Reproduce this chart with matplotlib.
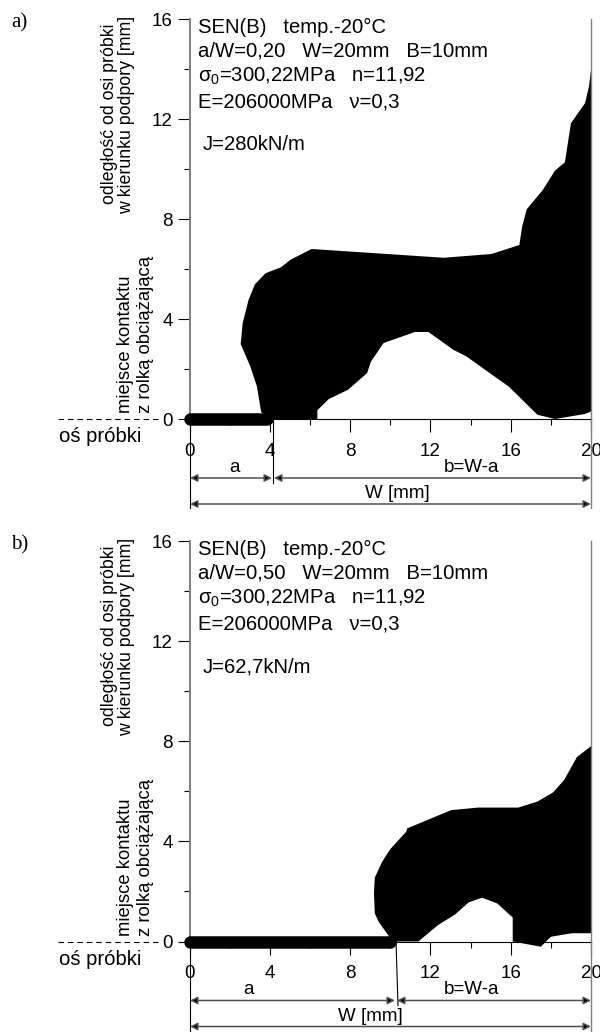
import matplotlib
matplotlib.use('Agg')
import matplotlib.pyplot as plt
import numpy as np

plt.rcParams['font.family'] = ['Liberation Sans', 'DejaVu Sans']
plt.rcParams['mathtext.fontset'] = 'custom'
plt.rcParams['mathtext.rm'] = 'Liberation Sans'
plt.rcParams['mathtext.default'] = 'rm'

W_px, H_px = 600, 1032
GRAY = '#808080'

# plastic zone outline, panel a
zone_a_x = [3.57, 3.36, 3.03, 2.55, 2.65, 2.94, 3.26, 3.79, 4.56, 5.03, 6.08, 12.66, 15.04, 16.43, 16.57,
            16.8, 17.6, 18.2, 18.7, 19.0, 19.7, 19.9, 20, 20, 19.7, 18.2, 17.33, 16.66, 15.9, 14.95,
            13.8, 13.14, 11.9, 11.23, 9.67, 9.04, 8.85, 7.9, 6.94, 6.37, 6.37, 4.17]
zone_a_y = [0.27, 1.3, 2.1, 3.0, 3.84, 4.76, 5.39, 5.83, 6.07, 6.37, 6.8, 6.45, 6.6, 6.96, 7.7,
            8.39, 9.16, 9.93, 10.27, 11.83, 12.63, 13.3, 13.96, 0.3, 0.2, 0, 0.17, 0.7, 1.3, 1.84,
            2.5, 2.77, 3.48, 3.48, 3.04, 2.3, 1.84, 1.17, 0.8, 0.35, 0, 0]

# plastic zone outline, panel b
zone_b_x = [9.9, 9.42, 9.23, 9.19, 9.23, 9.6, 10, 10.8, 10.85, 13.04, 14.38, 16.38, 17.33, 18.1, 18.66,
            19.3, 20, 20, 19.05, 18, 17.5, 16.1, 16.1, 15.33, 14.57, 13.9, 13.23, 12.37, 11.4, 10.28]
zone_b_y = [0.25, 0.79, 1.12, 1.92, 2.55, 3.19, 3.69, 4.39, 4.52, 5.25, 5.35, 5.35, 5.59, 5.95, 6.45,
            7.37, 7.8, 0.33, 0.33, 0.19, -0.21, 0, 0.96, 1.52, 1.75, 1.56, 1.08, 0.65, 0, 0]

crack_a = 3.87
crack_b = 9.98
x_major = [0, 4, 8, 12, 16, 20]
y_major = [0, 4, 8, 12, 16]

info_a = ['SEN(B)   temp.-20°C', 'a/W=0,20   W=20mm   B=10mm', 'σ$_0$=300,22MPa   n=11,92',
          'E=206000MPa   ν=0,3']
info_b = ['SEN(B)   temp.-20°C', 'a/W=0,50   W=20mm   B=10mm', 'σ$_0$=300,22MPa   n=11,92',
          'E=206000MPa   ν=0,3']
info_rows = [8, 32, 57, 83]

fig = plt.figure(figsize=(W_px / 100, H_px / 100), dpi=100)
over = fig.add_axes([0, 0, 1, 1], zorder=5)
over.set_xlim(0, W_px)
over.set_ylim(H_px, 0)
over.axis('off')


def dim(x1, x2, y):
    over.annotate('', xy=(x2, y), xytext=(x1, y),
                  arrowprops=dict(arrowstyle='<|-|>', lw=1.1, shrinkA=0, shrinkB=0,
                                  mutation_scale=11, edgecolor='#505050', facecolor='black'))


def panel(y16, y0, zx, zy, crack, label, info, jtext, tip_top, tip_bot, a_x, w_x):
    ax = fig.add_axes([189.5 / W_px, 1 - y0 / H_px, 401.5 / W_px, (y0 - y16) / H_px], zorder=2)
    ax.set_xlim(0, 20)
    ax.set_ylim(0, 16)
    ax.fill(zx, zy, color='black', lw=0, clip_on=False)
    ax.plot([0, crack], [0, 0], color='black', lw=9, solid_capstyle='round', clip_on=False, zorder=4)
    ax.spines['top'].set_visible(False)
    ax.spines['left'].set_color(GRAY)
    ax.spines['left'].set_linewidth(1.4)
    ax.spines['right'].set_color(GRAY)
    ax.spines['right'].set_linewidth(1)
    ax.spines['bottom'].set_linewidth(0.8)
    ax.set_xticks(x_major)
    ax.set_yticks(y_major)
    ax.set_xticks(np.arange(0, 21, 2), minor=True)
    ax.set_yticks(np.arange(0, 17, 2), minor=True)
    ax.tick_params(axis='both', which='major', length=9, width=0.8, labelsize=13.5, pad=3)
    ax.tick_params(axis='both', which='minor', length=4.5, width=0.8)
    ax.tick_params(axis='x', which='major', pad=8)
    ax.patch.set_alpha(0)

    # dashed specimen axis and helper lines
    over.plot([58, 158], [y0, y0], color='black', lw=0.8, ls=(0, (5, 3.5)))
    over.plot([189.5, 189.5], [y0, y0 + 89], color='black', lw=0.8)
    over.plot([591, 591], [y0, y0 + 89], color=GRAY, lw=1)
    over.plot([tip_top, tip_bot], [y0, y0 + 64], color='black', lw=0.8)
    dim(190, tip_top - 1, y0 + 59)
    dim(tip_top + 1, 591, y0 + 59)
    dim(190, 591, y0 + 85)

    over.text(11, y16 + 4, label, family='Liberation Serif', fontsize=15, va='center')
    for row, t in zip(info_rows, info):
        over.text(198, y16 + row, t, fontsize=14.6, va='center')
    over.text(203, y16 + 126, jtext, fontsize=14.6, va='center')
    over.text(109, y16 + 95, 'odległość od osi próbki', fontsize=12.8, rotation=90, ha='center', va='center')
    over.text(127, y16 + 96, 'w kierunku podpory [mm]', fontsize=12.8, rotation=90, ha='center', va='center')
    over.text(125, y0 - 6, 'miejsce kontaktu', fontsize=13.3, rotation=90, ha='center', va='bottom')
    over.text(145, y0 - 6, 'z rolką obciążającą', fontsize=13.3, rotation=90, ha='center', va='bottom')
    over.text(59, y0 + 18, 'oś próbki', fontsize=14.6, va='center')
    over.text(a_x, y0 + 48, 'a', fontsize=13.5, ha='center', va='center')
    over.text(472, y0 + 48, 'b=W-a', fontsize=13.5, ha='center', va='center')
    over.text(w_x, y0 + 75, 'W [mm]', fontsize=13.5, ha='center', va='center')
    return ax


panel(19, 419, zone_a_x, zone_a_y, crack_a, 'a)', info_a, 'J=280kN/m', 273, 273, 234, 397)
panel(541, 941.5, zone_b_x, zone_b_y, crack_b, 'b)', info_b, 'J=62,7kN/m', 396, 398, 249, 370)

fig.savefig('out.png', dpi=100)
